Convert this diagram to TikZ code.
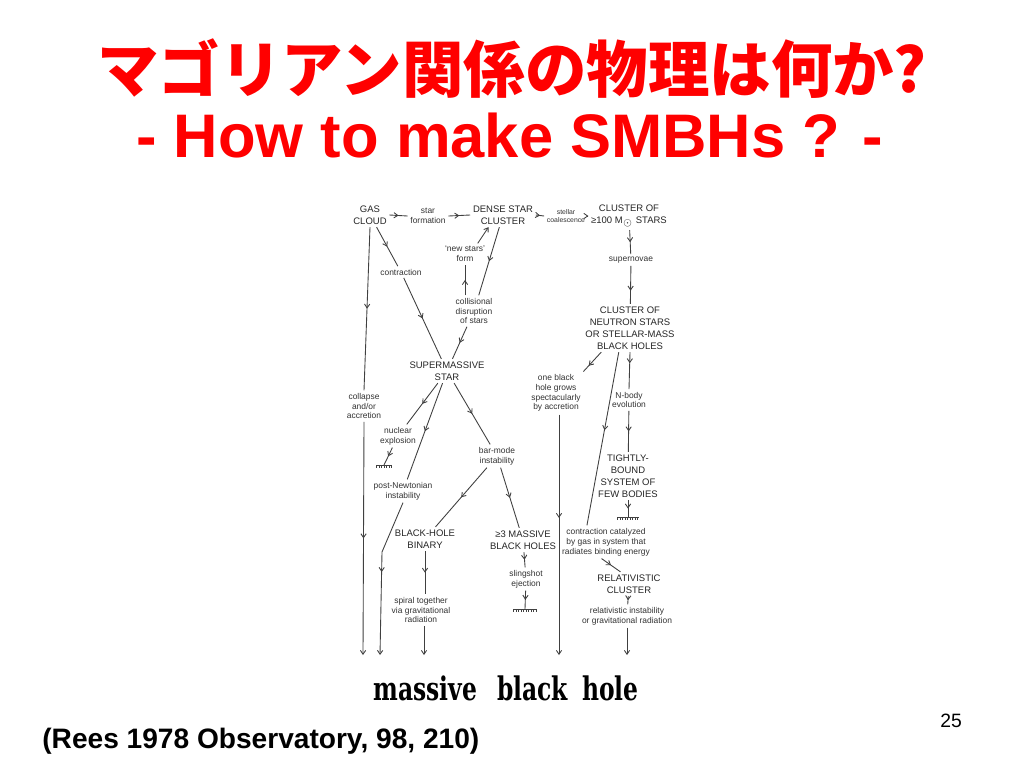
\documentclass[tikz,border=0pt]{standalone}
\usepackage{fontspec}
\setmainfont{Liberation Sans}
\newfontfamily\jpfont{Noto Sans CJK JP}
\newfontfamily\mbhfont{DejaVu Serif}
\usetikzlibrary{arrows.meta,decorations.markings,calc}

\begin{document}
\begin{tikzpicture}[x=0.02cm,y=-0.02cm,
		caps/.style={align=center,inner sep=0.8pt,outer sep=0.8pt,font=\fontsize{5.4}{6.8}\selectfont,text=black!85},
		lbl/.style={align=center,inner sep=0.8pt,outer sep=0.8pt,font=\fontsize{4.8}{5.6}\selectfont,text=black!80},
		flow/.style={draw=black!75,line width=0.5pt,postaction={decorate},
			decoration={markings,mark=at position #1 with {\arrow{Straight Barb[length=2.2pt,width=3pt]}}}},
		flow/.default=0.5,
		tip/.style={draw=black!75,line width=0.5pt,-{Straight Barb[length=2.2pt,width=3pt]}},
		gnd/.style={draw=black!75,line width=0.45pt}]
		\useasboundingbox[fill=white] (0,0) rectangle (1024,768);
		
		% titles
		\node[text=red,font=\jpfont\bfseries\fontsize{35}{40}\selectfont] (jtitle) at (512,69) {マゴリアン関係の物理は何か?};
		\node[anchor=base,text=red,font=\bfseries\fontsize{35}{40}\selectfont] (etitle) at (510,157) {- How to make SMBHs ? -};
		\node[anchor=base west,inner sep=0pt,font=\bfseries\fontsize{16}{18}\selectfont] (ref) at (42,748) {(Rees 1978 Observatory, 98, 210)};
		\node[anchor=base,inner sep=0pt,font=\fontsize{11}{12}\selectfont] (page) at (951,727) {25};
		
		% top row
		\node[caps] (gas) at (370,215) {GAS\\CLOUD};
		\node[lbl] (starform) at (428,216) {star\\formation};
		\node[caps] (dense) at (503,215) {DENSE STAR\\CLUSTER};
		\node[lbl,font=\fontsize{3.9}{4.6}\selectfont] (coal) at (566,216) {stellar\\coalescence};
		\node[caps] (c100) at (629,216) {CLUSTER OF\\≥100 M$_\odot$ STARS};
		
		% right column
		\node[lbl] (supnov) at (631,260) {supernovae};
		\node[caps] (neutron) at (630,328) {CLUSTER OF\\NEUTRON STARS\\OR STELLAR-MASS\\BLACK HOLES};
		\node[lbl] (onebh) at (556,393) {one black\\hole grows\\spectacularly\\by accretion};
		\node[lbl] (nbody) at (629,400) {N-body\\evolution};
		\node[caps] (tight) at (628,476) {TIGHTLY-\\BOUND\\SYSTEM OF\\FEW BODIES};
		\coordinate (g1) at (628,517);
		\node[lbl] (catal) at (606,542) {contraction catalyzed\\by gas in system that\\radiates binding energy};
		\node[caps] (relclus) at (629,584) {RELATIVISTIC\\CLUSTER};
		\node[lbl] (relinst) at (627,616) {relativistic instability\\or gravitational radiation};
		
		% left and middle
		\node[lbl] (contr) at (401,272) {contraction};
		\node[lbl] (newstars) at (465,254) {`new stars'\\form};
		\node[lbl] (collis) at (474,311) {collisional\\disruption\\of stars};
		\node[caps] (sms) at (447,371) {SUPERMASSIVE\\STAR};
		\node[lbl] (collapse) at (364,406) {collapse\\and/or\\accretion};
		\node[lbl] (nuclear) at (398,436) {nuclear\\explosion};
		\coordinate (g2) at (384,465);
		\node[lbl] (postnewt) at (403,491) {post-Newtonian\\instability};
		\node[lbl] (barmode) at (497,456) {bar-mode\\instability};
		\node[caps] (binary) at (425,539) {BLACK-HOLE\\BINARY};
		\node[caps] (three) at (523,540) {≥3 MASSIVE\\BLACK HOLES};
		\node[lbl] (sling) at (526,579) {slingshot\\ejection};
		\coordinate (g3) at (525,609);
		\node[lbl] (spiral) at (421,610) {spiral together\\via gravitational\\radiation};
		
		\node[anchor=base,inner sep=0pt,font=\mbhfont\bfseries\fontsize{18.5}{22}\selectfont] (mbh) at (506,700)
			{\scalebox{0.72}[1]{massive\hspace{16pt}black\hspace{11pt}hole}};
		\coordinate (e1) at (363,655);
		\coordinate (e2) at (380,655);
		\coordinate (e3) at (424,655);
		\coordinate (e4) at (559,655);
		\coordinate (e5) at (627,655);
		\coordinate (bend) at (382,552);
		
		% connectors
		\draw[flow] (gas.east) -- (starform.west);
		\draw[flow] (starform.east) -- (dense.west);
		\draw[flow] (dense.east) -- (coal.west);
		\draw[tip] (coal.east) -- (c100.west);
		\draw[flow] (c100) -- (supnov);
		\draw[flow=0.65] (supnov) -- (neutron);
		\draw[flow=0.7] (neutron.220) -- (onebh.north east);
		\draw[flow=0.45] (neutron.245) -- (catal.139);
		\draw[flow=0.3] (neutron.south) -- (nbody.north);
		\draw[flow] (nbody) -- (tight);
		\draw[flow] (tight) -- (g1);
		\draw[flow=0.43,tip] (onebh.south -| e4) -- (e4);
		\draw[flow] (gas.south) -- (collapse.north);
		\draw[flow,tip] (collapse.south) -- (e1);
		\draw[flow] (gas) -- (contr);
		\draw[flow] (contr) -- (sms);
		\draw[flow] (dense) -- (collis);
		\draw[flow] (collis.north -| newstars) -- (newstars.south);
		\draw[tip] (newstars.40) -- (dense.220);
		\draw[flow] (collis) -- (sms);
		\draw[flow] (sms) -- (nuclear);
		\draw[flow] (nuclear) -- (g2);
		\draw[flow] (sms) -- (postnewt);
		\draw[flow=0.47,tip] (postnewt.south) -- (bend) -- (e2);
		\draw[flow] (sms) -- (barmode);
		\draw[flow] (barmode) -- (binary);
		\draw[flow] (barmode) -- (three);
		\draw[flow] (binary.south) -- (spiral.north -| binary.south);
		\draw[tip] (spiral.south -| e3) -- (e3);
		\draw[flow] (three) -- (sling);
		\draw[flow] (sling) -- (g3);
		\draw[flow] (catal.255) -- (relclus.125);
		\draw[flow] (relclus) -- (relinst);
		\draw[tip] (relinst.south -| e5) -- (e5);
		
		% earth symbols
		\foreach \g/\w in {g1/11,g2/8,g3/12}{
			\draw[gnd] ($(\g)+(-\w,0)$) -- ($(\g)+(\w,0)$);
			\draw[gnd,line width=1.5pt,dash pattern=on 0.35pt off 1.1pt] ($(\g)+(-\w,1.5)$) -- ($(\g)+(\w,1.5)$);
		}
\end{tikzpicture}
\end{document}
